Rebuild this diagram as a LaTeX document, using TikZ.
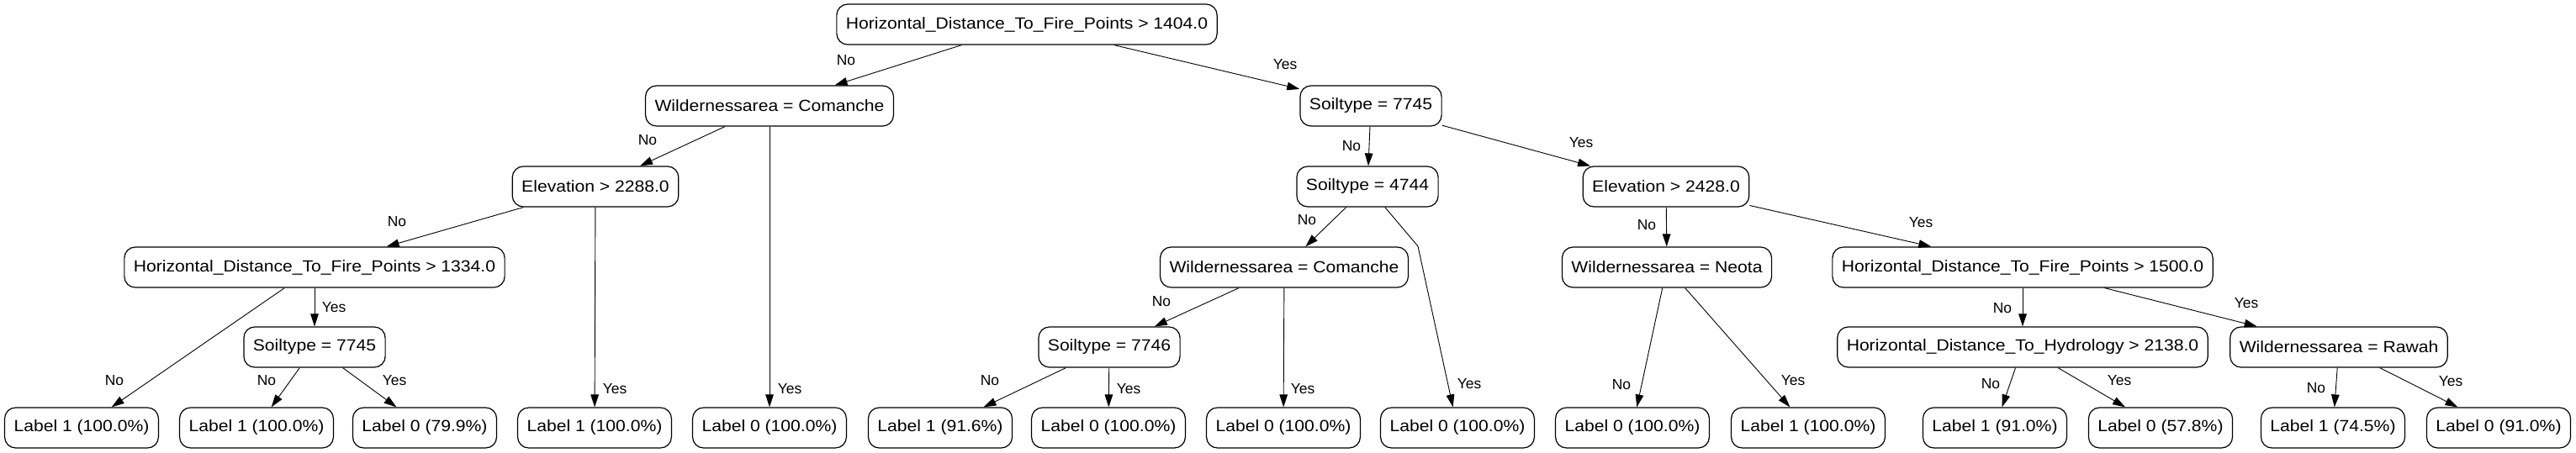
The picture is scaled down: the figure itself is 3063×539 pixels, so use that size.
\documentclass[tikz,border=0pt]{standalone}
\usepackage{fontspec}
\setmainfont{Liberation Sans}
\newfontfamily\nodefont[FakeStretch=1.1]{Liberation Sans}
\usetikzlibrary{arrows.meta}

\begin{document}
\begin{tikzpicture} [
  x=0.5pt, y=-0.5pt,
  test node/.style= {draw,line width=0.6pt,rounded corners=6.5pt,minimum height=24pt,inner xsep=5.5pt,inner ysep=0pt,font=\nodefont\fontsize{9.6}{11}\selectfont},
  branch/.style= {-{Triangle[length=7.5pt,width=4.8pt]},line width=0.45pt},
  answer/.style= {inner sep=0pt,font=\fontsize{8.7}{10}\selectfont},
]
\useasboundingbox [fill=white] (0,0) rectangle (3063,539);
% tests
\node (0) [test node] at (1221,29) {Horizontal\_Distance\_To\_Fire\_Points > 1404.0};
\node (A1) [test node] at (915,126) {Wildernessarea = Comanche};
\node (A2) [test node] at (1630,126) {Soiltype = 7745};
\node (B1) [test node] at (708,222) {Elevation > 2288.0};
\node (B2) [test node] at (1626,222) {Soiltype = 4744};
\node (B3) [test node] at (1981,222) {Elevation > 2428.0};
\node (C1) [test node] at (374,318) {Horizontal\_Distance\_To\_Fire\_Points > 1334.0};
\node (C2) [test node] at (1527,318) {Wildernessarea = Comanche};
\node (C3) [test node] at (1982,318) {Wildernessarea = Neota};
\node (C4) [test node] at (2405,318) {Horizontal\_Distance\_To\_Fire\_Points > 1500.0};
\node (D1) [test node] at (374,413) {Soiltype = 7745};
\node (D2) [test node] at (1319,413) {Soiltype = 7746};
\node (D3) [test node] at (2405,413) {Horizontal\_Distance\_To\_Hydrology > 2138.0};
\node (D4) [test node] at (2781,413) {Wildernessarea = Rawah};
% leaves
\node (E1) [test node] at (97,509) {Label 1 (100.0\%)};
\node (E2) [test node] at (305,509) {Label 1 (100.0\%)};
\node (E3) [test node] at (505,509) {Label 0 (79.9\%)};
\node (E4) [test node] at (707,509) {Label 1 (100.0\%)};
\node (E5) [test node] at (915,509) {Label 0 (100.0\%)};
\node (E6) [test node] at (1118,509) {Label 1 (91.6\%)};
\node (E7) [test node] at (1318,509) {Label 0 (100.0\%)};
\node (E8) [test node] at (1526,509) {Label 0 (100.0\%)};
\node (E9) [test node] at (1733,509) {Label 0 (100.0\%)};
\node (E10) [test node] at (1941,509) {Label 0 (100.0\%)};
\node (E11) [test node] at (2150,509) {Label 1 (100.0\%)};
\node (E12) [test node] at (2372,509) {Label 1 (91.0\%)};
\node (E13) [test node] at (2569,509) {Label 0 (57.8\%)};
\node (E14) [test node] at (2774,509) {Label 1 (74.5\%)};
\node (E15) [test node] at (2971,509) {Label 0 (91.0\%)};
% branches
\draw [branch] (0) -- (A1) node [answer] at (1006,72) {No};
\draw [branch] (0) -- (A2) node [answer] at (1528,77) {Yes};
\draw [branch] (A1) -- (B1) node [answer] at (770,167) {No};
\draw [branch] (A1) -- (E5) node [answer] at (939,463) {Yes};
\draw [branch] (B1) -- (C1) node [answer] at (472,264) {No};
\draw [branch] (B1) -- (E4) node [answer] at (731,463) {Yes};
\draw [branch] (C1) -- (E1) node [answer] at (136,453) {No};
\draw [branch] (C1) -- (D1) node [answer] at (397,366) {Yes};
\draw [branch] (D1) -- (E2) node [answer] at (317,453) {No};
\draw [branch] (D1) -- (E3) node [answer] at (469,453) {Yes};
\draw [branch] (A2) -- (B2) node [answer] at (1607,174) {No};
\draw [branch] (A2) -- (B3) node [answer] at (1880,170) {Yes};
\draw [branch] (B2) -- (C2) node [answer] at (1554,262) {No};
\coordinate (bend) at (1686,293);
\draw [branch] (B2) -- (bend) -- (E9) node [answer] at (1747,457) {Yes};
\draw [branch] (C2) -- (D2) node [answer] at (1381,359) {No};
\draw [branch] (C2) -- (E8) node [answer] at (1549,463) {Yes};
\draw [branch] (D2) -- (E6) node [answer] at (1177,453) {No};
\draw [branch] (D2) -- (E7) node [answer] at (1342,463) {Yes};
\draw [branch] (B3) -- (C3) node [answer] at (1958,268) {No};
\draw [branch] (B3) -- (C4) node [answer] at (2284,265) {Yes};
\draw [branch] (C3) -- (E10) node [answer] at (1928,458) {No};
\draw [branch] (C3) -- (E11) node [answer] at (2132,453) {Yes};
\draw [branch] (C4) -- (D3) node [answer] at (2381,367) {No};
\draw [branch] (C4) -- (D4) node [answer] at (2671,361) {Yes};
\draw [branch] (D3) -- (E12) node [answer] at (2367,457) {No};
\draw [branch] (D3) -- (E13) node [answer] at (2520,453) {Yes};
\draw [branch] (D4) -- (E14) node [answer] at (2754,462) {No};
\draw [branch] (D4) -- (E15) node [answer] at (2914,454) {Yes};
\end{tikzpicture}
\end{document}
